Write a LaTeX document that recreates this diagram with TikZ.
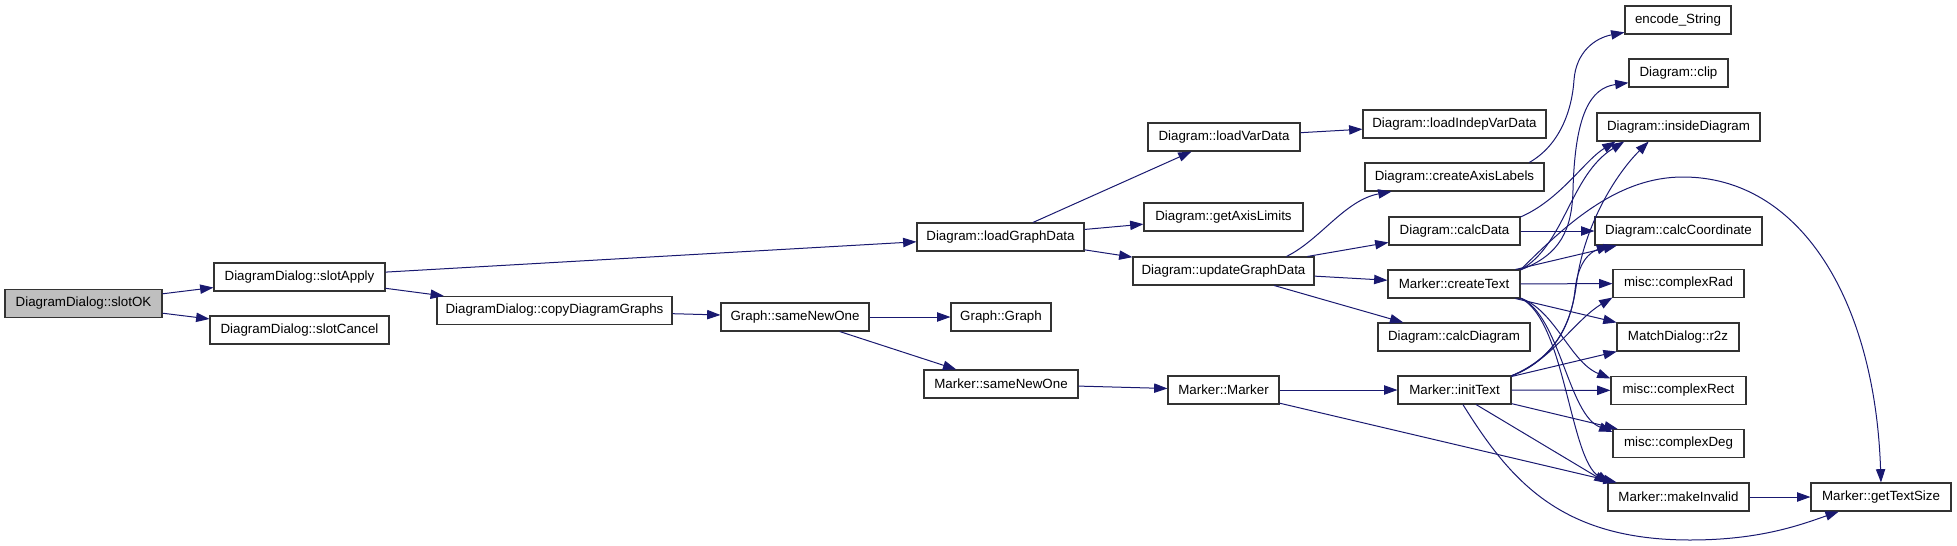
\documentclass[tikz,border=0pt]{standalone}
\usepackage{fontspec}
\setmainfont{Liberation Sans}
\usetikzlibrary{arrows.meta}
\definecolor{midnight}{HTML}{191970}
\tikzstyle{func}=[draw=black!80,line width=0.8pt,fill=white,rectangle,minimum height=21pt,inner sep=0pt,font=\fontsize{10}{12}\selectfont]
\tikzstyle{call}=[draw=midnight,line width=0.75pt,-{Triangle[length=10pt,width=7pt]}]

\begin{document}
\begin{tikzpicture}[x=0.75pt,y=-0.75pt,
fw/.style={minimum width=#1*0.75pt}]
\useasboundingbox (0,0) rectangle (1957,546);
\node [func,fw=157,fill=gray!50] (slotOK) at (83.5,303.5) {DiagramDialog::slotOK};
\node [func,fw=171] (slotApply) at (299.5,277) {DiagramDialog::slotApply};
\node [func,fw=179] (slotCancel) at (299.5,330) {DiagramDialog::slotCancel};
\node [func,fw=235] (copyGraphs) at (554.5,310.5) {DiagramDialog::copyDiagramGraphs};
\node [func,fw=167] (loadGraphData) at (1000.5,237) {Diagram::loadGraphData};
\node [func,fw=148] (graphSameNew) at (795,317) {Graph::sameNewOne};
\node [func,fw=100] (graphGraph) at (1001,317) {Graph::Graph};
\node [func,fw=154] (markerSameNew) at (1001,384) {Marker::sameNewOne};
\node [func,fw=152] (loadVarData) at (1224,137) {Diagram::loadVarData};
\node [func,fw=159] (getAxisLimits) at (1223.5,217) {Diagram::getAxisLimits};
\node [func,fw=181] (updateGraphData) at (1223.5,271) {Diagram::updateGraphData};
\node [func,fw=111] (marker) at (1223.5,390) {Marker::Marker};
\node [func,fw=183] (loadIndepVarData) at (1454.5,124) {Diagram::loadIndepVarData};
\node [func,fw=179] (createAxisLabels) at (1454.5,177) {Diagram::createAxisLabels};
\node [func,fw=131] (calcData) at (1454.5,231) {Diagram::calcData};
\node [func,fw=132] (createText) at (1454,284) {Marker::createText};
\node [func,fw=152] (calcDiagram) at (1454,337) {Diagram::calcDiagram};
\node [func,fw=113] (initText) at (1454.5,390) {Marker::initText};
\node [func,fw=106] (encodeString) at (1678,20) {encode\_String};
\node [func,fw=99] (clip) at (1678.5,73) {Diagram::clip};
\node [func,fw=163] (insideDiagram) at (1678.5,127) {Diagram::insideDiagram};
\node [func,fw=167] (calcCoordinate) at (1678.5,231) {Diagram::calcCoordinate};
\node [func,fw=131] (complexRad) at (1678.5,283.5) {misc::complexRad};
\node [func,fw=122] (r2z) at (1678,337) {MatchDialog::r2z};
\node [func,fw=135] (complexRect) at (1678.5,390.5) {misc::complexRect};
\node [func,fw=131] (complexDeg) at (1678.5,443.5) {misc::complexDeg};
\node [func,fw=141] (makeInvalid) at (1678.5,497) {Marker::makeInvalid};
\node [func,fw=140] (getTextSize) at (1881,497) {Marker::getTextSize};

\draw [call] (slotOK) -- (slotApply);
\draw [call] (slotOK) -- (slotCancel);
\draw [call] (slotApply) -- (loadGraphData);
\draw [call] (slotApply) -- (copyGraphs);
\draw [call] (copyGraphs) -- (graphSameNew);
\draw [call] (graphSameNew) -- (graphGraph);
\draw [call] (graphSameNew) -- (markerSameNew);
\draw [call] (markerSameNew) -- (marker);
\draw [call] (marker) -- (initText);
\draw [call] (marker) -- (makeInvalid);
\draw [call] (loadGraphData) -- (loadVarData);
\draw [call] (loadGraphData) -- (getAxisLimits);
\draw [call] (loadGraphData) -- (updateGraphData);
\draw [call] (loadVarData) -- (loadIndepVarData);
\draw [call] (updateGraphData.13) .. controls (1320,240) and (1345,200) .. (createAxisLabels.193);
\draw [call] (updateGraphData) -- (calcData);
\draw [call] (updateGraphData) -- (createText);
\draw [call] (updateGraphData) -- (calcDiagram);
\draw [call] (createAxisLabels.11) .. controls (1560,145) and (1572,110) .. (1574,80) .. controls (1576,52) and (1595,38) .. (encodeString.193);
\draw [call] (calcData.12) .. controls (1560,200) and (1585,160) .. (insideDiagram.193);
\draw [call] (calcData) -- (calcCoordinate);
\draw [call] (createText.12) .. controls (1560,255) and (1572,230) .. (1573,190) .. controls (1575,115) and (1590,88) .. (clip.191);
\draw [call] (createText.12) .. controls (1565,245) and (1570,175) .. (insideDiagram.195);
\draw [call] (createText) -- (calcCoordinate);
\draw [call] (createText) -- (complexRad);
\draw [call] (createText) -- (r2z);
\draw [call] (createText.-12) .. controls (1555,310) and (1570,362) .. (complexRect.170);
\draw [call] (createText.-12) .. controls (1560,315) and (1568,415) .. (complexDeg.170);
\draw [call] (createText.-12) .. controls (1565,320) and (1570,460) .. (makeInvalid.168);
\draw [call] (createText.12) .. controls (1570,220) and (1620,177) .. (1683,177) .. controls (1800,177) and (1875,300) .. (getTextSize.north);
\draw [call] (initText.14) .. controls (1560,355) and (1572,320) .. (1577,280) .. controls (1585,225) and (1615,175) .. (insideDiagram.206);
\draw [call] (initText.14) .. controls (1555,360) and (1572,320) .. (1575,290) .. controls (1578,262) and (1590,252) .. (calcCoordinate.192);
\draw [call] (initText.14) .. controls (1550,362) and (1575,320) .. (complexRad.192);
\draw [call] (initText) -- (r2z);
\draw [call] (initText) -- (complexRect);
\draw [call] (initText) -- (complexDeg);
\draw [call] (initText.-34) -- (makeInvalid.169);
\draw [call] (initText.-60) .. controls (1510,480) and (1560,540) .. (1690,540) .. controls (1760,540) and (1800,525) .. (getTextSize.199);
\draw [call] (makeInvalid) -- (getTextSize);
\end{tikzpicture}
\end{document}
